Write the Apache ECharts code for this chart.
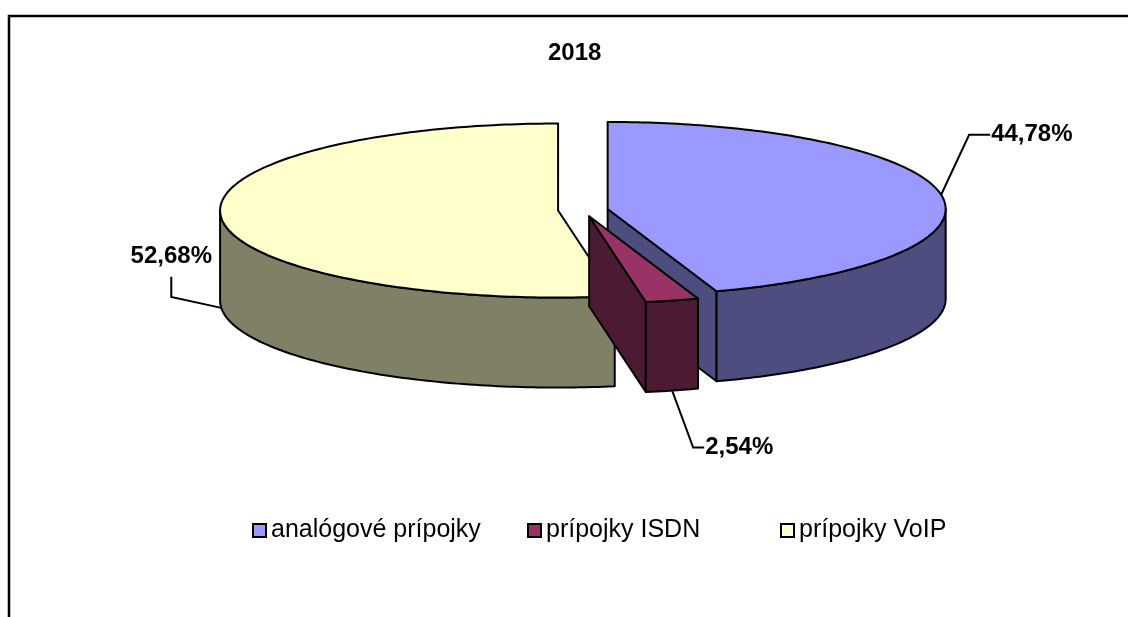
<!DOCTYPE html>
<html>
<head>
<meta charset="utf-8">
<script src="https://cdn.jsdelivr.net/npm/echarts@6/dist/echarts.min.js"></script>
<style>
html, body { margin: 0; padding: 0; background: #fff; }
#chart { width: 1128px; height: 617px; }
</style>
</head>
<body>
<div id="chart"></div>
<script>
var chartTitle = '2018';
var categories = ['analógové prípojky', 'prípojky ISDN', 'prípojky VoIP'];
var shares = [44.78, 2.54, 52.68];

var topColors = ['#9999ff', '#993366', '#ffffcc'];
var sideColors = ['#4d4d80', '#4d1a33', '#808066'];
// leader line bends for each slice: dx1, dy1, dx2, dy2, text align
var leaders = [[28, -60, 21, 0, 'left'], [21, 57, 11, 0, 'left'], [-50, -11, 0, -20, 'center']];
var legendLeft = [252, 527, 780];

var CX = 583, CY = 210, RX = 338, RY = 87, DEPTH = 90, EXPLODE = 25;
var FONT = '"Liberation Sans", Arial, sans-serif';
var TWO_PI = Math.PI * 2;

var total = shares.reduce(function (a, b) { return a + b; }, 0);
var starts = [];
var acc = 0;
for (var i = 0; i < shares.length; i++) {
    starts.push(acc / total * TWO_PI);
    acc += shares[i];
}

function proj(ox, oy, a, drop) {
    return [ox + RX * Math.sin(a), oy - RY * Math.cos(a) + (drop || 0)];
}
function arc(ox, oy, a0, a1, drop) {
    var n = Math.max(2, Math.ceil((a1 - a0) / (Math.PI / 180)));
    var pts = [];
    for (var k = 0; k <= n; k++) {
        pts.push(proj(ox, oy, a0 + (a1 - a0) * k / n, drop));
    }
    return pts;
}
function fmt(v) {
    return v.toFixed(2).replace('.', ',') + '%';
}

function renderSlice(i) {
    return function (params, api) {
        var a0 = starts[i];
        var a1 = a0 + shares[i] / total * TWO_PI;
        var mid = (a0 + a1) / 2;
        var ox = CX + EXPLODE * Math.sin(mid);
        var oy = CY - EXPLODE * Math.cos(mid) * RY / RX;
        var front = -Math.cos(mid);
        var zb = Math.round((front + 1) * 100) * 10;
        var children = [];

        function face(points, fill, z) {
            children.push({
                type: 'polygon',
                z2: zb + z,
                shape: { points: points },
                style: { fill: fill, stroke: '#000', lineWidth: 2, lineJoin: 'round' }
            });
        }

        // cut faces that turn towards the viewer
        [[a0, -Math.sin(a0)], [a1, Math.sin(a1)]].forEach(function (c) {
            if (c[1] > 0.01) {
                face([[ox, oy], proj(ox, oy, c[0]), proj(ox, oy, c[0], DEPTH), [ox, oy + DEPTH]], sideColors[i], 1);
            }
        });
        // outer wall, front half only
        var f0 = Math.max(a0, Math.PI / 2), f1 = Math.min(a1, Math.PI * 1.5);
        if (f1 > f0) {
            face(arc(ox, oy, f0, f1, 0).concat(arc(ox, oy, f0, f1, DEPTH).reverse()), sideColors[i], 2);
        }
        // top
        face([[ox, oy]].concat(arc(ox, oy, a0, a1, 0)), topColors[i], 3);

        // leader line and label
        var s = front > 0 ? proj(ox, oy, mid, DEPTH) : proj(ox, oy, mid);
        var L = leaders[i];
        var p1 = [s[0] + L[0], s[1] + L[1]];
        var p2 = [p1[0] + L[2], p1[1] + L[3]];
        children.push({
            type: 'polyline', z2: 5000,
            shape: { points: [s, p1, p2] },
            style: { stroke: '#000', lineWidth: 2, fill: null }
        });
        var tx = L[4] === 'center' ? p2[0] : p2[0] + 1;
        var ty = L[4] === 'center' ? p2[1] - 20 : p2[1];
        children.push({
            type: 'text', z2: 5001,
            style: {
                text: fmt(shares[i]), x: tx, y: ty,
                align: L[4], verticalAlign: 'middle',
                font: 'bold 24px ' + FONT, fill: '#000'
            }
        });
        return { type: 'group', children: children };
    };
}

var series = categories.map(function (name, i) {
    return {
        type: 'custom',
        name: name,
        coordinateSystem: 'none',
        renderItem: renderSlice(i),
        data: [shares[i]],
        itemStyle: { color: topColors[i] },
        silent: true
    };
});

var legends = categories.map(function (name, i) {
    return {
        data: [name],
        left: legendLeft[i],
        top: 518,
        padding: 0,
        icon: 'rect',
        itemWidth: 13,
        itemHeight: 13,
        itemStyle: { color: topColors[i], borderColor: '#000', borderWidth: 2 },
        textStyle: { fontSize: 25, fontFamily: FONT, color: '#000' },
        selectedMode: false
    };
});

var chart = echarts.init(document.getElementById('chart'));
chart.setOption({
    animation: false,
    backgroundColor: '#fff',
    title: {
        text: chartTitle,
        left: 543,
        top: 36,
        textStyle: { fontSize: 24, fontWeight: 'bold', fontFamily: FONT, color: '#000' }
    },
    legend: legends,
    graphic: [{
        type: 'polyline',
        shape: { points: [[9, 617], [9, 16], [1128, 16]] },
        style: { stroke: '#000', lineWidth: 2.5, fill: null }
    }],
    series: series
});
</script>
</body>
</html>
